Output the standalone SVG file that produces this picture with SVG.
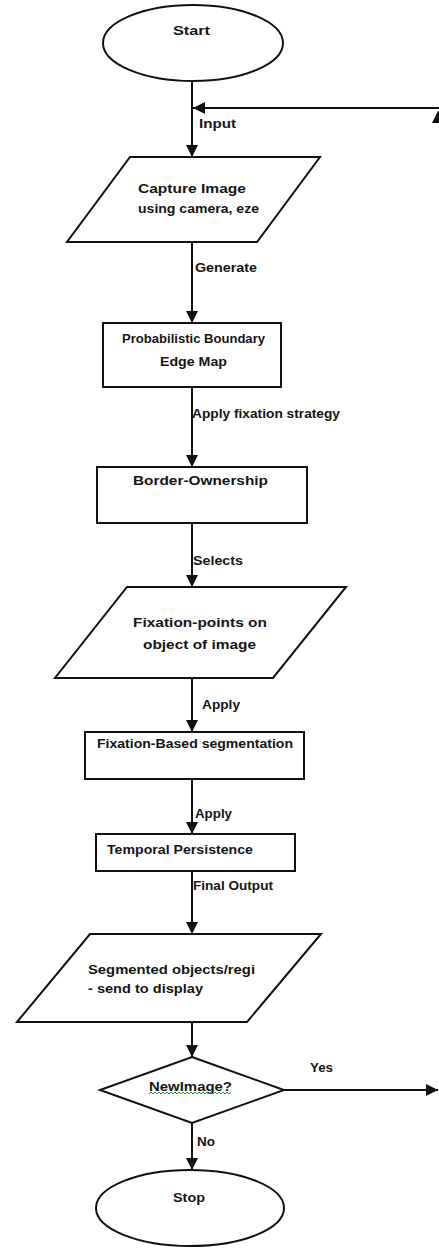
<svg xmlns="http://www.w3.org/2000/svg" width="439" height="1249" viewBox="0 0 439 1249">
<style>
.sh{fill:#fff;stroke:#111;stroke-width:2}
.ln{fill:none;stroke:#111;stroke-width:2}
text{font-family:"Liberation Sans",Arial,sans-serif;font-weight:bold;font-size:12.5px;fill:#151515}
</style>
<defs>
<marker id="ah" viewBox="0 0 12 12" refX="12" refY="6" markerWidth="12" markerHeight="12" markerUnits="userSpaceOnUse" orient="auto">
<path d="M0,0 L12,6 L0,12 Z" fill="#111"/>
</marker>
</defs>
<rect width="439" height="1249" fill="#fff"/>
<g id="connectors">
<line class="ln" x1="192" y1="81" x2="192" y2="157" marker-end="url(#ah)"/>
<line class="ln" x1="439" y1="108" x2="193" y2="108" marker-end="url(#ah)"/>
<polygon points="432,123 438,111 439,111 439,123" fill="#111"/>
<line class="ln" x1="192" y1="243" x2="192" y2="323" marker-end="url(#ah)"/>
<line class="ln" x1="192" y1="387" x2="192" y2="467" marker-end="url(#ah)"/>
<line class="ln" x1="192" y1="523" x2="192" y2="587" marker-end="url(#ah)"/>
<line class="ln" x1="192" y1="678" x2="192" y2="732" marker-end="url(#ah)"/>
<line class="ln" x1="192" y1="779" x2="192" y2="834" marker-end="url(#ah)"/>
<line class="ln" x1="192" y1="871" x2="192" y2="934" marker-end="url(#ah)"/>
<line class="ln" x1="192" y1="1022" x2="192" y2="1057" marker-end="url(#ah)"/>
<line class="ln" x1="284" y1="1090" x2="438" y2="1090" marker-end="url(#ah)"/>
<line class="ln" x1="192" y1="1123" x2="192" y2="1170" marker-end="url(#ah)"/>
<text x="199" y="128" textLength="37" lengthAdjust="spacingAndGlyphs">Input</text>
<text x="195" y="272" textLength="62" lengthAdjust="spacingAndGlyphs">Generate</text>
<text x="192" y="418" textLength="148" lengthAdjust="spacingAndGlyphs">Apply fixation strategy</text>
<text x="193" y="565" textLength="50" lengthAdjust="spacingAndGlyphs">Selects</text>
<text x="202" y="709" textLength="38" lengthAdjust="spacingAndGlyphs">Apply</text>
<text x="195" y="818" textLength="37" lengthAdjust="spacingAndGlyphs">Apply</text>
<text x="193" y="890" textLength="80" lengthAdjust="spacingAndGlyphs">Final Output</text>
<text x="310" y="1072" textLength="23" lengthAdjust="spacingAndGlyphs">Yes</text>
<text x="197" y="1146" textLength="18" lengthAdjust="spacingAndGlyphs">No</text>
</g>
<g id="start">
<ellipse class="sh" cx="193" cy="43" rx="90" ry="38"/>
<text x="173" y="35" textLength="37" lengthAdjust="spacingAndGlyphs">Start</text>
</g>
<g id="capture">
<polygon class="sh" points="130,157 320,157 257,242 67,242"/>
<text x="138" y="193" textLength="108" lengthAdjust="spacingAndGlyphs">Capture Image</text>
<text x="138" y="213" textLength="121" lengthAdjust="spacingAndGlyphs">using camera, eze</text>
</g>
<g id="edgemap">
<rect class="sh" x="103" y="323" width="178" height="64"/>
<text x="122" y="343" textLength="143" lengthAdjust="spacingAndGlyphs">Probabilistic Boundary</text>
<text x="160" y="366" textLength="67" lengthAdjust="spacingAndGlyphs">Edge Map</text>
</g>
<g id="border">
<rect class="sh" x="97" y="467" width="210" height="56"/>
<text x="133" y="485" textLength="135" lengthAdjust="spacingAndGlyphs">Border-Ownership</text>
</g>
<g id="fixpoints">
<polygon class="sh" points="127,587 346,587 273,678 55,678"/>
<text x="133" y="627" textLength="134" lengthAdjust="spacingAndGlyphs">Fixation-points on</text>
<text x="143" y="649" textLength="113" lengthAdjust="spacingAndGlyphs">object of image</text>
</g>
<g id="fixseg">
<rect class="sh" x="85" y="732" width="219" height="47"/>
<text x="97" y="748" textLength="196" lengthAdjust="spacingAndGlyphs">Fixation-Based segmentation</text>
</g>
<g id="temporal">
<rect class="sh" x="96" y="834" width="199" height="37"/>
<text x="107" y="854" textLength="146" lengthAdjust="spacingAndGlyphs">Temporal Persistence</text>
</g>
<g id="segmented">
<polygon class="sh" points="90,934 321,934 247,1022 17,1022"/>
<text x="88" y="974" textLength="167" lengthAdjust="spacingAndGlyphs">Segmented objects/regi</text>
<text x="88" y="993" textLength="115" lengthAdjust="spacingAndGlyphs">- send to display</text>
</g>
<g id="decision">
<polygon class="sh" points="192,1057 284,1090 192,1123 100,1090"/>
<text x="149" y="1091" textLength="83" lengthAdjust="spacingAndGlyphs">NewImage?</text>
<polyline fill="none" stroke="#2a9a2a" stroke-width="1" points="149,1094 151,1092 153,1094 155,1092 157,1094 159,1092 161,1094 163,1092 165,1094 167,1092 169,1094 171,1092 173,1094 175,1092 177,1094 179,1092 181,1094 183,1092 185,1094 187,1092 189,1094 191,1092 193,1094 195,1092 197,1094 199,1092 201,1094 203,1092 205,1094 207,1092 209,1094 211,1092 213,1094 215,1092 217,1094 219,1092 221,1094 223,1092 225,1094 227,1092 229,1094 231,1092"/>
</g>
<g id="stop">
<ellipse class="sh" cx="190" cy="1208" rx="94" ry="38"/>
<text x="173" y="1202" textLength="32" lengthAdjust="spacingAndGlyphs">Stop</text>
</g>
</svg>
